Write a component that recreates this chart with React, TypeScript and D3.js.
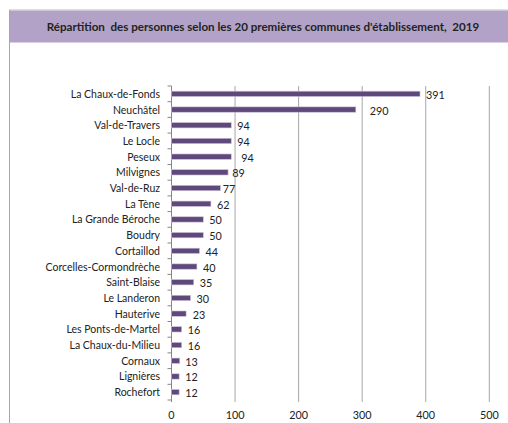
import React from "react";
import * as d3 from "d3";

const categories = [
  "La Chaux-de-Fonds", "Neuchâtel", "Val-de-Travers", "Le Locle", "Peseux",
  "Milvignes", "Val-de-Ruz", "La Tène", "La Grande Béroche", "Boudry",
  "Cortaillod", "Corcelles-Cormondrèche", "Saint-Blaise", "Le Landeron", "Hauterive",
  "Les Ponts-de-Martel", "La Chaux-du-Milieu", "Cornaux", "Lignières", "Rochefort",
];
const values = [391, 290, 94, 94, 94, 89, 77, 62, 50, 50, 44, 40, 35, 30, 23, 16, 16, 13, 12, 12];
const xTicks = [0, 100, 200, 300, 400, 500];
const title = "Répartition  des personnes selon les 20 premières communes d'établissement,  2019";
// small manual nudges of the value labels, as in the original
const labelNudge = [0, 8, 0, 0, 4, -1.7, -3.7, 0, 0, 0, 0, 0, 0, 0, 0.7, 0, 0, -0.6, 0, 0];

const W = 508, H = 423;
const FONT = "Lato, 'Liberation Sans', sans-serif";

export default function App() {
  const x = d3.scaleLinear().domain([0, 500]).range([171.5, 489.3]);
  const y = d3.scaleBand<string>().domain(categories).range([86, 400]).paddingInner(0.66).paddingOuter(0.33);
  const band = d3.scaleBand<string>().domain(categories).range([86, 400]);
  const bottom = 400;
  return (
    <svg width={W} height={H} style={{ position: "absolute", left: 0, top: 0, background: "#fff" }} fontFamily={FONT}>
      <rect x={9} y={10.5} width={W - 9} height={32} fill="#B3A2C7" />
      <line x1={9} x2={W} y1={10} y2={10} stroke="#BFBFBF" />
      <line x1={9.5} x2={9.5} y1={10} y2={H} stroke="#A6A6A6" />
      <text x={263} y={26} textAnchor="middle" dominantBaseline="central" fontSize={11.6} fontWeight="bold" fill="#222" style={{ whiteSpace: "pre" }}>
        {title}
      </text>
      {xTicks.map((t) => (
        <g key={t}>
          {t > 0 && <line x1={x(t)} x2={x(t)} y1={86} y2={bottom + 2} stroke="#A6A6A6" />}
          <text x={x(t)} y={414} textAnchor="middle" dominantBaseline="central" fontSize={10.8} fill="#222">{t}</text>
        </g>
      ))}
      <line x1={x(0)} x2={x(0)} y1={86} y2={bottom + 2} stroke="#868686" />
      {categories.map((c) => (
        <line key={"t" + c} x1={x(0) - 4} x2={x(0)} y1={band(c)!} y2={band(c)!} stroke="#868686" />
      ))}
      <line x1={x(0) - 4} x2={x(0)} y1={bottom} y2={bottom} stroke="#868686" />
      {categories.map((c, i) => {
        const cy = band(c)! + band.bandwidth() / 2;
        return (
          <g key={c}>
            <rect x={x(0)} y={y(c)!} width={x(values[i]) - x(0)} height={y.bandwidth()} fill="#5F497A" stroke="#CCC1DA" strokeWidth={0.6} />
            <text x={160} y={cy} textAnchor="end" dominantBaseline="central" fontSize={10.5} fill="#222">{c}</text>
            <text x={x(values[i]) + 6 + labelNudge[i]} y={cy + 0.5} dominantBaseline="central" fontSize={10.8} fill="#222">{values[i]}</text>
          </g>
        );
      })}
    </svg>
  );
}
